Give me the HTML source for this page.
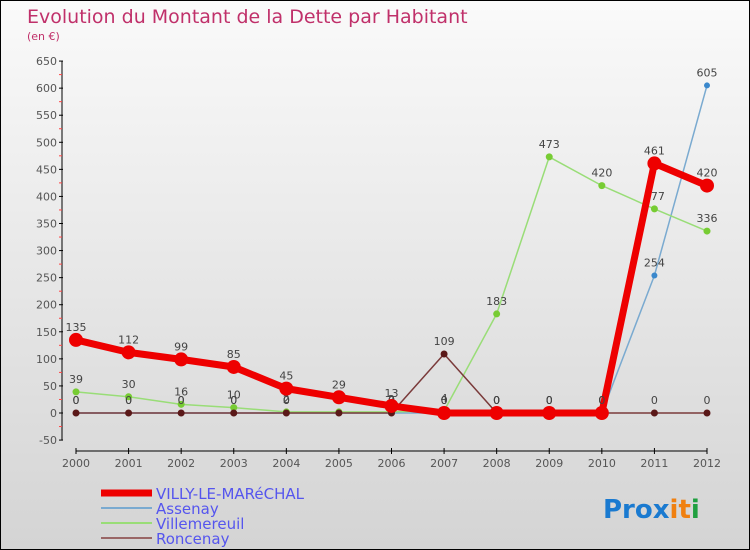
<!DOCTYPE html>
<html><head><meta charset="utf-8"><style>
body{margin:0}
#c{width:748px;height:548px;border:1px solid #000;background:linear-gradient(#fafafa,#d4d4d4);position:relative;font-family:"DejaVu Sans","Liberation Sans",sans-serif;overflow:hidden}
svg text{font-family:"DejaVu Sans","Liberation Sans",sans-serif}
</style></head><body>
<div id="c">
<svg id="s" width="748" height="548">
<text x="26" y="22" font-size="19" fill="#c0306a">Evolution du Montant de la Dette par Habitant</text>
<text x="26" y="39" font-size="11" fill="#c0306a">(en €)</text>
<text x="602" y="517" font-size="26" font-weight="bold" fill="#1a7ad0">Pro<tspan fill="#1a7ad0">x</tspan><tspan fill="#f08010">i</tspan><tspan fill="#f08010">t</tspan><tspan fill="#20a040">i</tspan></text>
</svg>
</div>
<script>
const years=[2000,2001,2002,2003,2004,2005,2006,2007,2008,2009,2010,2011,2012];
const villy=[135,112,99,85,45,29,13,0,0,0,0,461,420];
const assenay=[0,0,0,0,0,0,0,0,0,0,0,254,605];
const villemereuil=[39,30,16,10,2,2,2,4,183,473,420,377,336];
const roncenay=[0,0,0,0,0,0,0,109,0,0,0,0,0];
const yTicks=[-50,0,50,100,150,200,250,300,350,400,450,500,550,600,650];
const seriesNames=["VILLY-LE-MARéCHAL","Assenay","Villemereuil","Roncenay"];
const NS="http://www.w3.org/2000/svg";
const s=document.getElementById('s');
const X=i=>75+i*(706-75)/(years.length-1);
const Y=v=>412-v*(379/700);
function el(t,a,p){const e=document.createElementNS(NS,t);for(const k in a)e.setAttribute(k,a[k]);(p||s).appendChild(e);return e;}
// y axis
const ya=el('line',{x1:61,y1:Y(650),x2:61,y2:Y(-50),stroke:'#000'});


yTicks.forEach(v=>{
 const t=el('line',{x1:58,x2:62,y1:Y(v),y2:Y(v),stroke:'#000'});
 
 
 const m=el('line',{x1:58,x2:61,y1:Y(v+25),y2:Y(v+25),stroke:'#f44'});
 if(v===650)m.remove();
 const tx=el('text',{x:56,y:Y(v)+4,'font-size':11,fill:'#555','text-anchor':'end'});
 tx.textContent=v;
 
 
});
const xa=el('line',{x1:X(0),y1:450,x2:X(12),y2:450,stroke:'#000'});


years.forEach((y,i)=>{
 el('line',{x1:X(i),x2:X(i),y1:447,y2:453,stroke:'#000'});
 const tx=el('text',{x:X(i),y:466,'font-size':11,fill:'#555','text-anchor':'middle'});
 tx.textContent=y;
 
 
});
function series(data,color,w,r,name,dot){
 const g=el('g',{});
 
 
 el('polyline',{points:data.map((v,i)=>X(i)+','+Y(v)).join(' '),fill:'none',stroke:color,'stroke-width':w,'stroke-linejoin':'round'},g);
 data.forEach((v,i)=>{
  const c=el('circle',{cx:X(i),cy:Y(v),r:r,fill:dot},g);
  
  
  const t=el('text',{x:X(i),y:Y(v)-9,'font-size':11,fill:'#444','text-anchor':'middle'},g);
  t.textContent=v;
 });
}
series(assenay,'#7aaad0',1.5,3,'series-assenay','#3a88cc');
series(villemereuil,'#99dd77',1.5,3.5,'series-villemereuil','#77cc33');
series(roncenay,'#7a3a3a',1.5,3.5,'series-roncenay','#5a1818');
series(villy,'#ee0000',7,7,'series-villy','#ee0000');
const legColors=['#ee0000','#7aaad0','#99dd77','#996666'];
const legW=[7,2,2,2];
seriesNames.forEach((n,i)=>{
 const y=492+i*15;
 const g=el('g',{});
 
 
 el('line',{x1:100,x2:151,y1:y,y2:y,stroke:legColors[i],'stroke-width':legW[i]},g);
 const t=el('text',{x:155,y:y+6,'font-size':15,fill:'#5555ee'},g);
 t.textContent=n;
});
</script>
</body></html>
